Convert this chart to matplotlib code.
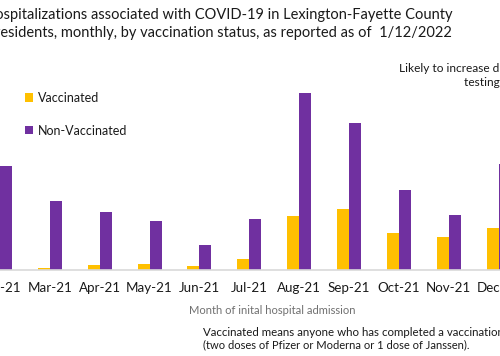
import matplotlib
matplotlib.use("Agg")
import matplotlib.pyplot as plt
import numpy as np

months = ["Feb-21", "Mar-21", "Apr-21", "May-21", "Jun-21", "Jul-21",
          "Aug-21", "Sep-21", "Oct-21", "Nov-21", "Dec-21"]
vaccinated = [0, 2, 5, 6, 4, 11, 54, 61, 37, 33, 42]
non_vaccinated = [104, 69, 58, 49, 25, 51, 177, 147, 80, 55, 106]

YELLOW = "#FFC000"
PURPLE = "#7030A0"
FONT = "Lato"
TXT = "#1a1a1a"

W, H = 500, 356
fig = plt.figure(figsize=(W / 100, H / 100), dpi=100)
base_px = 270
ax = fig.add_axes([0, (H - base_px) / H, 1, base_px / H])

x = np.arange(len(months))
bw = 0.24
ax.bar(x - bw / 2, vaccinated, width=bw, color=YELLOW, label="Vaccinated")
ax.bar(x + bw / 2, non_vaccinated, width=bw, color=PURPLE, label="Non-Vaccinated")

ax.set_xlim(0, 10.03)
ax.set_ylim(0, base_px)
ax.set_xticks(x)
ax.set_xticklabels(months, fontsize=9.6, family=FONT, color=TXT)
ax.tick_params(axis="x", length=0, pad=9)
ax.set_yticks([])
for s in ["top", "right", "left"]:
    ax.spines[s].set_visible(False)
ax.spines["bottom"].set_color("#D9D9D9")
ax.spines["bottom"].set_linewidth(1.2)
ax.patch.set_alpha(0)

leg = ax.legend(loc="upper left", bbox_to_anchor=(25 / W, 1 - 92 / H),
                bbox_transform=fig.transFigure, frameon=False,
                borderpad=0, borderaxespad=0, handlelength=0.65,
                handleheight=0.65, handletextpad=0.35, labelspacing=1.65,
                prop={"family": FONT, "size": 9})
for t in leg.get_texts():
    t.set_color(TXT)

fig.text(452 / W, 1 - 15 / H,
         "Hospitalizations associated with COVID-19 in Lexington-Fayette County",
         ha="right", va="center", fontsize=10.5, family=FONT, color=TXT)
fig.text(452 / W, 1 - 33 / H,
         "residents, monthly, by vaccination status, as reported as of  1/12/2022",
         ha="right", va="center", fontsize=10.5, family=FONT, color=TXT)

fig.text(399 / W, 1 - 68 / H, "Likely to increase due to",
         ha="left", va="center", fontsize=8.6, family=FONT, color=TXT)
fig.text(464 / W, 1 - 83 / H, "testing delays",
         ha="left", va="center", fontsize=8.6, family=FONT, color=TXT)

fig.text(272 / W, 1 - 311 / H, "Month of inital hospital admission",
         ha="center", va="center", fontsize=8, family=FONT, color="#707070")
fig.text(203 / W, 1 - 332 / H,
         "Vaccinated means anyone who has completed a vaccination series",
         ha="left", va="center", fontsize=8.3, family=FONT, color=TXT)
fig.text(203 / W, 1 - 345 / H,
         "(two doses of Pfizer or Moderna or 1 dose of Janssen).",
         ha="left", va="center", fontsize=8, family=FONT, color=TXT)

fig.savefig("out.png", dpi=100)
